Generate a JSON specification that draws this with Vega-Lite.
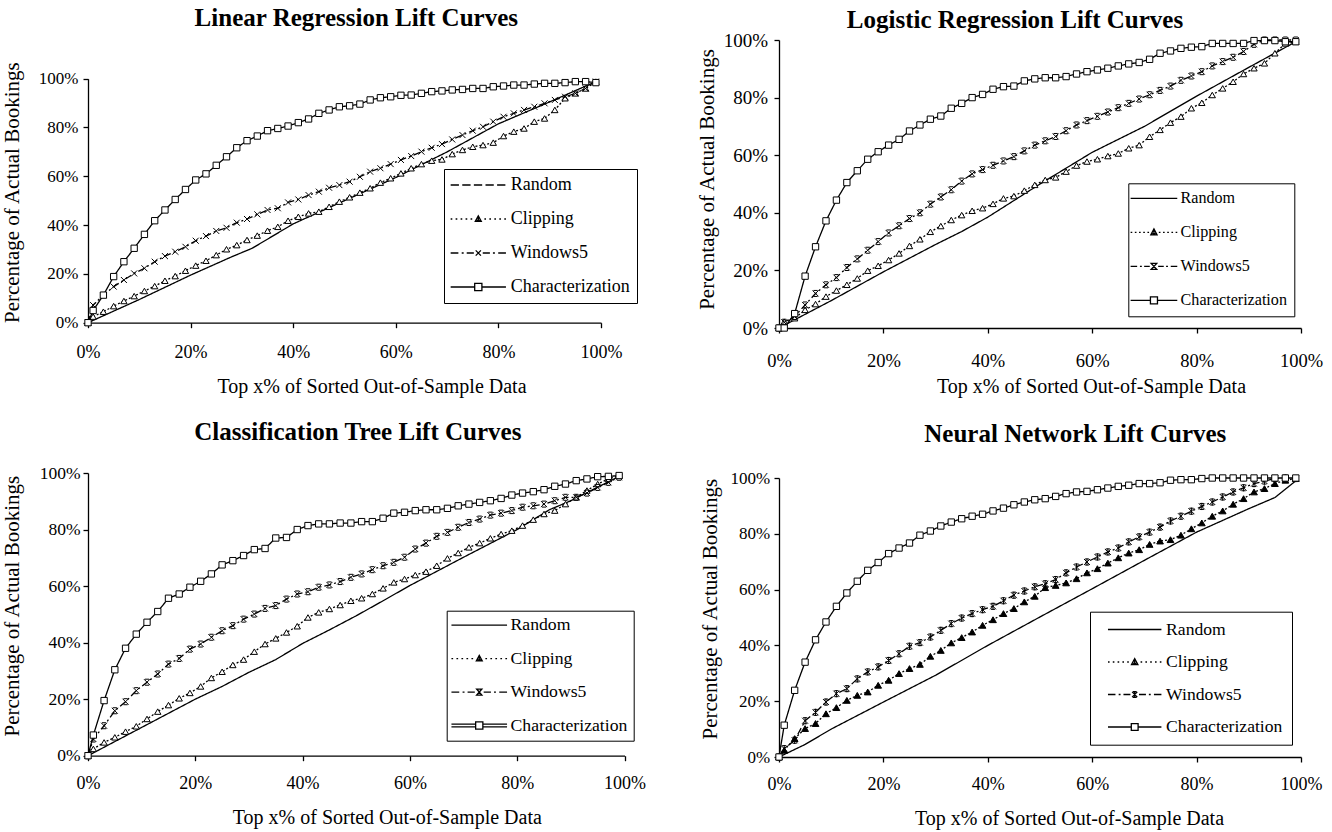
{
"$schema": "https://vega.github.io/schema/vega-lite/v6.json",
"background": "white",
"padding": {"left": 0, "top": 6, "right": 5, "bottom": 5},
"config": {
  "font": "Liberation Serif",
  "view": {"stroke": null},
  "axis": {"grid": false, "domainColor": "black", "domainWidth": 1.3, "tickColor": "black", "tickWidth": 1.3, "tickSize": 5, "labelColor": "black", "labelFont": "Liberation Serif", "labelFontSize": 18, "labelFlush": false, "labelOverlap": false, "titleColor": "black", "titleFont": "Liberation Serif", "titleFontSize": 20, "titleFontWeight": "normal"},
  "title": {"font": "Liberation Serif", "fontSize": 25, "fontWeight": "bold", "color": "black"},
  "legend": {"labelFont": "Liberation Serif", "labelColor": "black", "strokeColor": "black", "fillColor": "white", "symbolStrokeColor": "black", "symbolStrokeWidth": 1.3, "symbolOpacity": 1, "labelLimit": 400}
},
"datasets": {
"p1": [
{"series":"Random","x":0,"y":0},{"series":"Random","x":10,"y":9.5},{"series":"Random","x":20,"y":19.5},{"series":"Random","x":28,"y":27},{"series":"Random","x":32,"y":30.5},{"series":"Random","x":40,"y":40.5},{"series":"Random","x":50,"y":50},{"series":"Random","x":60,"y":59.5},{"series":"Random","x":70,"y":70},{"series":"Random","x":80,"y":81.5},{"series":"Random","x":90,"y":90.5},{"series":"Random","x":99,"y":98.8},
{"series":"Clipping","x":0,"y":0},{"series":"Clipping","x":1,"y":2.5},{"series":"Clipping","x":3,"y":4.5},{"series":"Clipping","x":5,"y":6.8},{"series":"Clipping","x":7,"y":8.9},{"series":"Clipping","x":9,"y":10.9},{"series":"Clipping","x":11,"y":13},{"series":"Clipping","x":13,"y":15},{"series":"Clipping","x":15,"y":17.2},{"series":"Clipping","x":17,"y":19.1},{"series":"Clipping","x":19,"y":21.3},{"series":"Clipping","x":21,"y":23.4},{"series":"Clipping","x":23,"y":25.4},{"series":"Clipping","x":25,"y":27.7},{"series":"Clipping","x":27,"y":30.1},{"series":"Clipping","x":29,"y":31.8},{"series":"Clipping","x":31,"y":33.9},{"series":"Clipping","x":33,"y":35.7},{"series":"Clipping","x":35,"y":37.7},{"series":"Clipping","x":37,"y":39.3},{"series":"Clipping","x":39,"y":41.8},{"series":"Clipping","x":41,"y":43.4},{"series":"Clipping","x":43,"y":44.8},{"series":"Clipping","x":45,"y":45.5},{"series":"Clipping","x":47,"y":47.5},{"series":"Clipping","x":49,"y":49.6},{"series":"Clipping","x":51,"y":51.4},{"series":"Clipping","x":53,"y":53.3},{"series":"Clipping","x":55,"y":55.1},{"series":"Clipping","x":57,"y":57.4},{"series":"Clipping","x":59,"y":59.2},{"series":"Clipping","x":61,"y":61.2},{"series":"Clipping","x":63,"y":63.3},{"series":"Clipping","x":65,"y":65},{"series":"Clipping","x":67,"y":66.4},{"series":"Clipping","x":69,"y":66.9},{"series":"Clipping","x":71,"y":69.1},{"series":"Clipping","x":73,"y":70.8},{"series":"Clipping","x":75,"y":72.1},{"series":"Clipping","x":77,"y":72.8},{"series":"Clipping","x":79,"y":73.8},{"series":"Clipping","x":81,"y":76.5},{"series":"Clipping","x":83,"y":78.3},{"series":"Clipping","x":85,"y":79.6},{"series":"Clipping","x":87,"y":82.4},{"series":"Clipping","x":89,"y":83.7},{"series":"Clipping","x":91,"y":87.2},{"series":"Clipping","x":93,"y":92},{"series":"Clipping","x":95,"y":94},{"series":"Clipping","x":97,"y":96},{"series":"Clipping","x":99,"y":98.8},
{"series":"Windows5","x":0,"y":0},{"series":"Windows5","x":1,"y":7.2},{"series":"Windows5","x":3,"y":11.3},{"series":"Windows5","x":5,"y":14.8},{"series":"Windows5","x":7,"y":17.5},{"series":"Windows5","x":9,"y":20.2},{"series":"Windows5","x":11,"y":22.3},{"series":"Windows5","x":13,"y":25},{"series":"Windows5","x":15,"y":27.3},{"series":"Windows5","x":17,"y":29.1},{"series":"Windows5","x":19,"y":31.1},{"series":"Windows5","x":21,"y":33.6},{"series":"Windows5","x":23,"y":35.5},{"series":"Windows5","x":25,"y":37.6},{"series":"Windows5","x":27,"y":38.9},{"series":"Windows5","x":29,"y":41},{"series":"Windows5","x":31,"y":42.5},{"series":"Windows5","x":33,"y":44.4},{"series":"Windows5","x":35,"y":46.2},{"series":"Windows5","x":37,"y":46.9},{"series":"Windows5","x":39,"y":49.3},{"series":"Windows5","x":41,"y":50.5},{"series":"Windows5","x":43,"y":52.3},{"series":"Windows5","x":45,"y":53.7},{"series":"Windows5","x":47,"y":55.3},{"series":"Windows5","x":49,"y":56.4},{"series":"Windows5","x":51,"y":57.8},{"series":"Windows5","x":53,"y":59.8},{"series":"Windows5","x":55,"y":61.9},{"series":"Windows5","x":57,"y":63.3},{"series":"Windows5","x":59,"y":65},{"series":"Windows5","x":61,"y":66.7},{"series":"Windows5","x":63,"y":68.3},{"series":"Windows5","x":65,"y":70.1},{"series":"Windows5","x":67,"y":71.7},{"series":"Windows5","x":69,"y":73.2},{"series":"Windows5","x":71,"y":75.1},{"series":"Windows5","x":73,"y":76.9},{"series":"Windows5","x":75,"y":78.7},{"series":"Windows5","x":77,"y":80.3},{"series":"Windows5","x":79,"y":82.4},{"series":"Windows5","x":81,"y":84.4},{"series":"Windows5","x":83,"y":85.8},{"series":"Windows5","x":85,"y":87.2},{"series":"Windows5","x":87,"y":88.5},{"series":"Windows5","x":89,"y":89.9},{"series":"Windows5","x":91,"y":91.3},{"series":"Windows5","x":93,"y":92.6},{"series":"Windows5","x":95,"y":94},{"series":"Windows5","x":97,"y":96},{"series":"Windows5","x":99,"y":98.8},
{"series":"Characterization","x":0,"y":0},{"series":"Characterization","x":1,"y":5},{"series":"Characterization","x":3,"y":11.3},{"series":"Characterization","x":5,"y":18.9},{"series":"Characterization","x":7,"y":25},{"series":"Characterization","x":9,"y":30.5},{"series":"Characterization","x":11,"y":36.2},{"series":"Characterization","x":13,"y":41.8},{"series":"Characterization","x":15,"y":46.2},{"series":"Characterization","x":17,"y":50.5},{"series":"Characterization","x":19,"y":54.6},{"series":"Characterization","x":21,"y":58.5},{"series":"Characterization","x":23,"y":61},{"series":"Characterization","x":25,"y":64.5},{"series":"Characterization","x":27,"y":68},{"series":"Characterization","x":29,"y":71.7},{"series":"Characterization","x":31,"y":74.6},{"series":"Characterization","x":33,"y":76.5},{"series":"Characterization","x":35,"y":78.7},{"series":"Characterization","x":37,"y":79.6},{"series":"Characterization","x":39,"y":80.6},{"series":"Characterization","x":41,"y":82},{"series":"Characterization","x":43,"y":83.5},{"series":"Characterization","x":45,"y":85.8},{"series":"Characterization","x":47,"y":87.2},{"series":"Characterization","x":49,"y":88.5},{"series":"Characterization","x":51,"y":88.9},{"series":"Characterization","x":53,"y":89.6},{"series":"Characterization","x":55,"y":91.3},{"series":"Characterization","x":57,"y":92.2},{"series":"Characterization","x":59,"y":92.6},{"series":"Characterization","x":61,"y":93.2},{"series":"Characterization","x":63,"y":93.3},{"series":"Characterization","x":65,"y":94},{"series":"Characterization","x":67,"y":94.7},{"series":"Characterization","x":69,"y":95},{"series":"Characterization","x":71,"y":95.4},{"series":"Characterization","x":73,"y":95.6},{"series":"Characterization","x":75,"y":96},{"series":"Characterization","x":77,"y":96},{"series":"Characterization","x":79,"y":96.7},{"series":"Characterization","x":81,"y":97},{"series":"Characterization","x":83,"y":97.4},{"series":"Characterization","x":85,"y":97.4},{"series":"Characterization","x":87,"y":97.8},{"series":"Characterization","x":89,"y":98.1},{"series":"Characterization","x":91,"y":98.1},{"series":"Characterization","x":93,"y":98.4},{"series":"Characterization","x":95,"y":98.8},{"series":"Characterization","x":97,"y":98.8},{"series":"Characterization","x":99,"y":98.4}
],
"p2": [
{"series":"Random","x":0,"y":0},{"series":"Random","x":10,"y":9.5},{"series":"Random","x":20,"y":19.5},{"series":"Random","x":30,"y":29},{"series":"Random","x":35,"y":33.5},{"series":"Random","x":40,"y":38.5},{"series":"Random","x":50,"y":50},{"series":"Random","x":60,"y":61},{"series":"Random","x":65,"y":65.5},{"series":"Random","x":70,"y":70},{"series":"Random","x":80,"y":80.5},{"series":"Random","x":90,"y":90.5},{"series":"Random","x":99,"y":99.4},
{"series":"Clipping","x":0,"y":0},{"series":"Clipping","x":1,"y":2.2},{"series":"Clipping","x":3,"y":3.4},{"series":"Clipping","x":5,"y":6.3},{"series":"Clipping","x":7,"y":8.3},{"series":"Clipping","x":9,"y":10.9},{"series":"Clipping","x":11,"y":13},{"series":"Clipping","x":13,"y":15},{"series":"Clipping","x":15,"y":17.2},{"series":"Clipping","x":17,"y":19.9},{"series":"Clipping","x":19,"y":21.6},{"series":"Clipping","x":21,"y":23.6},{"series":"Clipping","x":23,"y":25.9},{"series":"Clipping","x":25,"y":28.5},{"series":"Clipping","x":27,"y":30.8},{"series":"Clipping","x":29,"y":33.4},{"series":"Clipping","x":31,"y":35.4},{"series":"Clipping","x":33,"y":37.5},{"series":"Clipping","x":35,"y":39.2},{"series":"Clipping","x":37,"y":40.7},{"series":"Clipping","x":39,"y":41.6},{"series":"Clipping","x":41,"y":43.1},{"series":"Clipping","x":43,"y":45},{"series":"Clipping","x":45,"y":45.8},{"series":"Clipping","x":47,"y":47.7},{"series":"Clipping","x":49,"y":49.7},{"series":"Clipping","x":51,"y":51.4},{"series":"Clipping","x":53,"y":52.3},{"series":"Clipping","x":55,"y":54.3},{"series":"Clipping","x":57,"y":56.4},{"series":"Clipping","x":59,"y":57.8},{"series":"Clipping","x":61,"y":58.6},{"series":"Clipping","x":63,"y":59.7},{"series":"Clipping","x":65,"y":60.6},{"series":"Clipping","x":67,"y":62.4},{"series":"Clipping","x":69,"y":63.5},{"series":"Clipping","x":71,"y":66.4},{"series":"Clipping","x":73,"y":68.8},{"series":"Clipping","x":75,"y":71.3},{"series":"Clipping","x":77,"y":73.4},{"series":"Clipping","x":79,"y":76.3},{"series":"Clipping","x":81,"y":78.2},{"series":"Clipping","x":83,"y":80.9},{"series":"Clipping","x":85,"y":83.2},{"series":"Clipping","x":87,"y":85.5},{"series":"Clipping","x":89,"y":88.2},{"series":"Clipping","x":91,"y":90.2},{"series":"Clipping","x":93,"y":91.9},{"series":"Clipping","x":95,"y":95.4},{"series":"Clipping","x":97,"y":98.8},{"series":"Clipping","x":99,"y":99.4},
{"series":"Windows5","x":0,"y":0},{"series":"Windows5","x":1,"y":2},{"series":"Windows5","x":3,"y":4},{"series":"Windows5","x":5,"y":8},{"series":"Windows5","x":7,"y":12},{"series":"Windows5","x":9,"y":15},{"series":"Windows5","x":11,"y":17.5},{"series":"Windows5","x":13,"y":21},{"series":"Windows5","x":15,"y":24},{"series":"Windows5","x":17,"y":27},{"series":"Windows5","x":19,"y":30},{"series":"Windows5","x":21,"y":33},{"series":"Windows5","x":23,"y":35.5},{"series":"Windows5","x":25,"y":38},{"series":"Windows5","x":27,"y":40},{"series":"Windows5","x":29,"y":43},{"series":"Windows5","x":31,"y":45.5},{"series":"Windows5","x":33,"y":48},{"series":"Windows5","x":35,"y":51},{"series":"Windows5","x":37,"y":53.5},{"series":"Windows5","x":39,"y":55},{"series":"Windows5","x":41,"y":56.5},{"series":"Windows5","x":43,"y":58},{"series":"Windows5","x":45,"y":59.5},{"series":"Windows5","x":47,"y":61.5},{"series":"Windows5","x":49,"y":63.5},{"series":"Windows5","x":51,"y":65},{"series":"Windows5","x":53,"y":66.5},{"series":"Windows5","x":55,"y":68.5},{"series":"Windows5","x":57,"y":70.5},{"series":"Windows5","x":59,"y":72},{"series":"Windows5","x":61,"y":73.5},{"series":"Windows5","x":63,"y":75},{"series":"Windows5","x":65,"y":76.5},{"series":"Windows5","x":67,"y":78},{"series":"Windows5","x":69,"y":79.5},{"series":"Windows5","x":71,"y":81},{"series":"Windows5","x":73,"y":82.5},{"series":"Windows5","x":75,"y":84},{"series":"Windows5","x":77,"y":86},{"series":"Windows5","x":79,"y":87.5},{"series":"Windows5","x":81,"y":89},{"series":"Windows5","x":83,"y":91},{"series":"Windows5","x":85,"y":92.5},{"series":"Windows5","x":87,"y":94},{"series":"Windows5","x":89,"y":96},{"series":"Windows5","x":91,"y":98.5},{"series":"Windows5","x":93,"y":100},{"series":"Windows5","x":95,"y":100},{"series":"Windows5","x":97,"y":100},{"series":"Windows5","x":99,"y":100},
{"series":"Characterization","x":0,"y":0},{"series":"Characterization","x":1,"y":0},{"series":"Characterization","x":3,"y":5},{"series":"Characterization","x":5,"y":18},{"series":"Characterization","x":7,"y":28.2},{"series":"Characterization","x":9,"y":37.2},{"series":"Characterization","x":11,"y":44.4},{"series":"Characterization","x":13,"y":50.5},{"series":"Characterization","x":15,"y":54.6},{"series":"Characterization","x":17,"y":58.6},{"series":"Characterization","x":19,"y":61.2},{"series":"Characterization","x":21,"y":63.5},{"series":"Characterization","x":23,"y":65.5},{"series":"Characterization","x":25,"y":68.4},{"series":"Characterization","x":27,"y":70.5},{"series":"Characterization","x":29,"y":72.5},{"series":"Characterization","x":31,"y":73.6},{"series":"Characterization","x":33,"y":76.3},{"series":"Characterization","x":35,"y":78},{"series":"Characterization","x":37,"y":80},{"series":"Characterization","x":39,"y":81.1},{"series":"Characterization","x":41,"y":82.9},{"series":"Characterization","x":43,"y":83.8},{"series":"Characterization","x":45,"y":84},{"series":"Characterization","x":47,"y":85.8},{"series":"Characterization","x":49,"y":86.5},{"series":"Characterization","x":51,"y":86.9},{"series":"Characterization","x":53,"y":86.9},{"series":"Characterization","x":55,"y":87.3},{"series":"Characterization","x":57,"y":88.2},{"series":"Characterization","x":59,"y":89},{"series":"Characterization","x":61,"y":89.6},{"series":"Characterization","x":63,"y":90.2},{"series":"Characterization","x":65,"y":91},{"series":"Characterization","x":67,"y":91.7},{"series":"Characterization","x":69,"y":92.2},{"series":"Characterization","x":71,"y":93.3},{"series":"Characterization","x":73,"y":95.4},{"series":"Characterization","x":75,"y":96.2},{"series":"Characterization","x":77,"y":97.1},{"series":"Characterization","x":79,"y":97.5},{"series":"Characterization","x":81,"y":97.7},{"series":"Characterization","x":83,"y":98.8},{"series":"Characterization","x":85,"y":98.8},{"series":"Characterization","x":87,"y":98.8},{"series":"Characterization","x":89,"y":98.8},{"series":"Characterization","x":91,"y":99.8},{"series":"Characterization","x":93,"y":99.8},{"series":"Characterization","x":95,"y":99.8},{"series":"Characterization","x":97,"y":99.4},{"series":"Characterization","x":99,"y":99.4}
],
"p3": [
{"series":"Random","x":0,"y":0},{"series":"Random","x":10,"y":10},{"series":"Random","x":20,"y":20},{"series":"Random","x":25,"y":24.5},{"series":"Random","x":30,"y":29.5},{"series":"Random","x":35,"y":34},{"series":"Random","x":40,"y":39.7},{"series":"Random","x":45,"y":44.5},{"series":"Random","x":50,"y":49.5},{"series":"Random","x":55,"y":54.8},{"series":"Random","x":60,"y":60.2},{"series":"Random","x":70,"y":70.2},{"series":"Random","x":80,"y":80},{"series":"Random","x":86,"y":87},{"series":"Random","x":90,"y":90.2},{"series":"Random","x":99,"y":98.8},
{"series":"Clipping","x":0,"y":0},{"series":"Clipping","x":1,"y":2.4},{"series":"Clipping","x":3,"y":4.7},{"series":"Clipping","x":5,"y":6.5},{"series":"Clipping","x":7,"y":8.5},{"series":"Clipping","x":9,"y":10.4},{"series":"Clipping","x":11,"y":13},{"series":"Clipping","x":13,"y":15.6},{"series":"Clipping","x":15,"y":17.9},{"series":"Clipping","x":17,"y":20.3},{"series":"Clipping","x":19,"y":22.2},{"series":"Clipping","x":21,"y":24.5},{"series":"Clipping","x":23,"y":27.5},{"series":"Clipping","x":25,"y":29.7},{"series":"Clipping","x":27,"y":32.1},{"series":"Clipping","x":29,"y":34},{"series":"Clipping","x":31,"y":36.8},{"series":"Clipping","x":33,"y":39.5},{"series":"Clipping","x":35,"y":41.5},{"series":"Clipping","x":37,"y":43.6},{"series":"Clipping","x":39,"y":45.8},{"series":"Clipping","x":41,"y":48.9},{"series":"Clipping","x":43,"y":50.7},{"series":"Clipping","x":45,"y":51.9},{"series":"Clipping","x":47,"y":53.3},{"series":"Clipping","x":49,"y":54.8},{"series":"Clipping","x":51,"y":55.7},{"series":"Clipping","x":53,"y":57.2},{"series":"Clipping","x":55,"y":59.2},{"series":"Clipping","x":57,"y":61.3},{"series":"Clipping","x":59,"y":62.5},{"series":"Clipping","x":61,"y":63.9},{"series":"Clipping","x":63,"y":65.1},{"series":"Clipping","x":65,"y":67.2},{"series":"Clipping","x":67,"y":69.8},{"series":"Clipping","x":69,"y":71.7},{"series":"Clipping","x":71,"y":73.7},{"series":"Clipping","x":73,"y":75.2},{"series":"Clipping","x":75,"y":76.9},{"series":"Clipping","x":77,"y":78.4},{"series":"Clipping","x":79,"y":79.6},{"series":"Clipping","x":81,"y":81.4},{"series":"Clipping","x":83,"y":83.5},{"series":"Clipping","x":85,"y":85.5},{"series":"Clipping","x":87,"y":86.7},{"series":"Clipping","x":89,"y":89},{"series":"Clipping","x":91,"y":91.4},{"series":"Clipping","x":93,"y":93.8},{"series":"Clipping","x":95,"y":96.1},{"series":"Clipping","x":97,"y":97.9},{"series":"Clipping","x":99,"y":99.1},
{"series":"Windows5","x":0,"y":0},{"series":"Windows5","x":1,"y":5.9},{"series":"Windows5","x":3,"y":10.6},{"series":"Windows5","x":5,"y":15.9},{"series":"Windows5","x":7,"y":19.1},{"series":"Windows5","x":9,"y":23},{"series":"Windows5","x":11,"y":26},{"series":"Windows5","x":13,"y":28.9},{"series":"Windows5","x":15,"y":32.4},{"series":"Windows5","x":17,"y":34.4},{"series":"Windows5","x":19,"y":37.7},{"series":"Windows5","x":21,"y":39.5},{"series":"Windows5","x":23,"y":41.9},{"series":"Windows5","x":25,"y":44.2},{"series":"Windows5","x":27,"y":46},{"series":"Windows5","x":29,"y":48.3},{"series":"Windows5","x":31,"y":50.1},{"series":"Windows5","x":33,"y":52.1},{"series":"Windows5","x":35,"y":53.1},{"series":"Windows5","x":37,"y":55.4},{"series":"Windows5","x":39,"y":57.2},{"series":"Windows5","x":41,"y":58},{"series":"Windows5","x":43,"y":59.6},{"series":"Windows5","x":45,"y":60.4},{"series":"Windows5","x":47,"y":61.6},{"series":"Windows5","x":49,"y":63.1},{"series":"Windows5","x":51,"y":64.3},{"series":"Windows5","x":53,"y":65.8},{"series":"Windows5","x":55,"y":67.2},{"series":"Windows5","x":57,"y":68.4},{"series":"Windows5","x":59,"y":70.2},{"series":"Windows5","x":61,"y":73.1},{"series":"Windows5","x":63,"y":75.2},{"series":"Windows5","x":65,"y":77.6},{"series":"Windows5","x":67,"y":79},{"series":"Windows5","x":69,"y":80.8},{"series":"Windows5","x":71,"y":82.5},{"series":"Windows5","x":73,"y":83.7},{"series":"Windows5","x":75,"y":85.1},{"series":"Windows5","x":77,"y":85.8},{"series":"Windows5","x":79,"y":86.7},{"series":"Windows5","x":81,"y":87.9},{"series":"Windows5","x":83,"y":88.4},{"series":"Windows5","x":85,"y":89},{"series":"Windows5","x":87,"y":90.2},{"series":"Windows5","x":89,"y":91.4},{"series":"Windows5","x":91,"y":91.4},{"series":"Windows5","x":93,"y":92.9},{"series":"Windows5","x":95,"y":94.9},{"series":"Windows5","x":97,"y":96.7},{"series":"Windows5","x":99,"y":98.5},
{"series":"Characterization","x":0,"y":0},{"series":"Characterization","x":1,"y":7.3},{"series":"Characterization","x":3,"y":19.5},{"series":"Characterization","x":5,"y":30.4},{"series":"Characterization","x":7,"y":38},{"series":"Characterization","x":9,"y":43},{"series":"Characterization","x":11,"y":47.2},{"series":"Characterization","x":13,"y":51},{"series":"Characterization","x":15,"y":55.7},{"series":"Characterization","x":17,"y":57.2},{"series":"Characterization","x":19,"y":59.6},{"series":"Characterization","x":21,"y":61.7},{"series":"Characterization","x":23,"y":64.3},{"series":"Characterization","x":25,"y":67.5},{"series":"Characterization","x":27,"y":69},{"series":"Characterization","x":29,"y":70.8},{"series":"Characterization","x":31,"y":72.9},{"series":"Characterization","x":33,"y":73.3},{"series":"Characterization","x":35,"y":77},{"series":"Characterization","x":37,"y":77.2},{"series":"Characterization","x":39,"y":80},{"series":"Characterization","x":41,"y":81.4},{"series":"Characterization","x":43,"y":82},{"series":"Characterization","x":45,"y":82},{"series":"Characterization","x":47,"y":82.3},{"series":"Characterization","x":49,"y":82.3},{"series":"Characterization","x":51,"y":82.8},{"series":"Characterization","x":53,"y":82.8},{"series":"Characterization","x":55,"y":84},{"series":"Characterization","x":57,"y":85.8},{"series":"Characterization","x":59,"y":86.1},{"series":"Characterization","x":61,"y":86.7},{"series":"Characterization","x":63,"y":87},{"series":"Characterization","x":65,"y":87},{"series":"Characterization","x":67,"y":87.5},{"series":"Characterization","x":69,"y":88.4},{"series":"Characterization","x":71,"y":89},{"series":"Characterization","x":73,"y":89.6},{"series":"Characterization","x":75,"y":90.2},{"series":"Characterization","x":77,"y":91},{"series":"Characterization","x":79,"y":92.2},{"series":"Characterization","x":81,"y":92.9},{"series":"Characterization","x":83,"y":93.4},{"series":"Characterization","x":85,"y":94.1},{"series":"Characterization","x":87,"y":95.3},{"series":"Characterization","x":89,"y":96.1},{"series":"Characterization","x":91,"y":97.3},{"series":"Characterization","x":93,"y":97.9},{"series":"Characterization","x":95,"y":98.7},{"series":"Characterization","x":97,"y":98.8},{"series":"Characterization","x":99,"y":99.1}
],
"p4": [
{"series":"Random","x":0,"y":0},{"series":"Random","x":5,"y":4.5},{"series":"Random","x":10,"y":10},{"series":"Random","x":20,"y":19.7},{"series":"Random","x":30,"y":29.3},{"series":"Random","x":40,"y":40},{"series":"Random","x":50,"y":50.2},{"series":"Random","x":60,"y":60.3},{"series":"Random","x":70,"y":70.5},{"series":"Random","x":80,"y":80.6},{"series":"Random","x":90,"y":89},{"series":"Random","x":95,"y":93},{"series":"Random","x":99,"y":99},
{"series":"Clipping","x":0,"y":0},{"series":"Clipping","x":1,"y":2.4},{"series":"Clipping","x":3,"y":6.6},{"series":"Clipping","x":5,"y":10.2},{"series":"Clipping","x":7,"y":12},{"series":"Clipping","x":9,"y":15.5},{"series":"Clipping","x":11,"y":17.7},{"series":"Clipping","x":13,"y":20.3},{"series":"Clipping","x":15,"y":22.1},{"series":"Clipping","x":17,"y":23.3},{"series":"Clipping","x":19,"y":25.7},{"series":"Clipping","x":21,"y":27.5},{"series":"Clipping","x":23,"y":29.9},{"series":"Clipping","x":25,"y":31.7},{"series":"Clipping","x":27,"y":33.2},{"series":"Clipping","x":29,"y":36.1},{"series":"Clipping","x":31,"y":38.2},{"series":"Clipping","x":33,"y":40.9},{"series":"Clipping","x":35,"y":42.8},{"series":"Clipping","x":37,"y":44.8},{"series":"Clipping","x":39,"y":47.2},{"series":"Clipping","x":41,"y":49.2},{"series":"Clipping","x":43,"y":51.4},{"series":"Clipping","x":45,"y":53.2},{"series":"Clipping","x":47,"y":55.6},{"series":"Clipping","x":49,"y":57.6},{"series":"Clipping","x":51,"y":60.7},{"series":"Clipping","x":53,"y":61.5},{"series":"Clipping","x":55,"y":62.4},{"series":"Clipping","x":57,"y":63.9},{"series":"Clipping","x":59,"y":66},{"series":"Clipping","x":61,"y":67.5},{"series":"Clipping","x":63,"y":69.5},{"series":"Clipping","x":65,"y":71.4},{"series":"Clipping","x":67,"y":73.1},{"series":"Clipping","x":69,"y":74.3},{"series":"Clipping","x":71,"y":76.2},{"series":"Clipping","x":73,"y":77.4},{"series":"Clipping","x":75,"y":77.9},{"series":"Clipping","x":77,"y":79.5},{"series":"Clipping","x":79,"y":81.8},{"series":"Clipping","x":81,"y":83.9},{"series":"Clipping","x":83,"y":86.3},{"series":"Clipping","x":85,"y":88.2},{"series":"Clipping","x":87,"y":90.6},{"series":"Clipping","x":89,"y":92.6},{"series":"Clipping","x":91,"y":95},{"series":"Clipping","x":93,"y":96.2},{"series":"Clipping","x":95,"y":98},{"series":"Clipping","x":97,"y":99.2},{"series":"Clipping","x":99,"y":99.8},
{"series":"Windows5","x":0,"y":0},{"series":"Windows5","x":1,"y":3},{"series":"Windows5","x":3,"y":6},{"series":"Windows5","x":5,"y":13},{"series":"Windows5","x":7,"y":16},{"series":"Windows5","x":9,"y":19.7},{"series":"Windows5","x":11,"y":22.7},{"series":"Windows5","x":13,"y":24.5},{"series":"Windows5","x":15,"y":28},{"series":"Windows5","x":17,"y":30.5},{"series":"Windows5","x":19,"y":32.3},{"series":"Windows5","x":21,"y":34.6},{"series":"Windows5","x":23,"y":37},{"series":"Windows5","x":25,"y":39.7},{"series":"Windows5","x":27,"y":41},{"series":"Windows5","x":29,"y":43},{"series":"Windows5","x":31,"y":45.4},{"series":"Windows5","x":33,"y":47.8},{"series":"Windows5","x":35,"y":49.8},{"series":"Windows5","x":37,"y":51.4},{"series":"Windows5","x":39,"y":52.8},{"series":"Windows5","x":41,"y":54},{"series":"Windows5","x":43,"y":56},{"series":"Windows5","x":45,"y":58},{"series":"Windows5","x":47,"y":59.5},{"series":"Windows5","x":49,"y":61},{"series":"Windows5","x":51,"y":62.1},{"series":"Windows5","x":53,"y":63.6},{"series":"Windows5","x":55,"y":66},{"series":"Windows5","x":57,"y":68.1},{"series":"Windows5","x":59,"y":69.9},{"series":"Windows5","x":61,"y":71.7},{"series":"Windows5","x":63,"y":73.5},{"series":"Windows5","x":65,"y":74.9},{"series":"Windows5","x":67,"y":77.1},{"series":"Windows5","x":69,"y":78.9},{"series":"Windows5","x":71,"y":80.6},{"series":"Windows5","x":73,"y":82.4},{"series":"Windows5","x":75,"y":84.6},{"series":"Windows5","x":77,"y":86.3},{"series":"Windows5","x":79,"y":88.1},{"series":"Windows5","x":81,"y":89.8},{"series":"Windows5","x":83,"y":91.4},{"series":"Windows5","x":85,"y":93.2},{"series":"Windows5","x":87,"y":95},{"series":"Windows5","x":89,"y":96.5},{"series":"Windows5","x":91,"y":98},{"series":"Windows5","x":93,"y":98.9},{"series":"Windows5","x":95,"y":99.8},{"series":"Windows5","x":97,"y":100},{"series":"Windows5","x":99,"y":99.8},
{"series":"Characterization","x":0,"y":0},{"series":"Characterization","x":1,"y":11.4},{"series":"Characterization","x":3,"y":23.9},{"series":"Characterization","x":5,"y":34},{"series":"Characterization","x":7,"y":42},{"series":"Characterization","x":9,"y":48.4},{"series":"Characterization","x":11,"y":54},{"series":"Characterization","x":13,"y":58.8},{"series":"Characterization","x":15,"y":63},{"series":"Characterization","x":17,"y":66.9},{"series":"Characterization","x":19,"y":69.7},{"series":"Characterization","x":21,"y":72.9},{"series":"Characterization","x":23,"y":74.9},{"series":"Characterization","x":25,"y":76.7},{"series":"Characterization","x":27,"y":79.5},{"series":"Characterization","x":29,"y":81},{"series":"Characterization","x":31,"y":82.8},{"series":"Characterization","x":33,"y":84.2},{"series":"Characterization","x":35,"y":85.4},{"series":"Characterization","x":37,"y":86.3},{"series":"Characterization","x":39,"y":87},{"series":"Characterization","x":41,"y":88.2},{"series":"Characterization","x":43,"y":89.2},{"series":"Characterization","x":45,"y":90.4},{"series":"Characterization","x":47,"y":91.4},{"series":"Characterization","x":49,"y":92.2},{"series":"Characterization","x":51,"y":92.6},{"series":"Characterization","x":53,"y":93.4},{"series":"Characterization","x":55,"y":94.4},{"series":"Characterization","x":57,"y":95},{"series":"Characterization","x":59,"y":95.2},{"series":"Characterization","x":61,"y":95.8},{"series":"Characterization","x":63,"y":96.4},{"series":"Characterization","x":65,"y":97},{"series":"Characterization","x":67,"y":97.4},{"series":"Characterization","x":69,"y":98},{"series":"Characterization","x":71,"y":98},{"series":"Characterization","x":73,"y":98.3},{"series":"Characterization","x":75,"y":99.2},{"series":"Characterization","x":77,"y":99.4},{"series":"Characterization","x":79,"y":99.4},{"series":"Characterization","x":81,"y":99.8},{"series":"Characterization","x":83,"y":100},{"series":"Characterization","x":85,"y":100},{"series":"Characterization","x":87,"y":100},{"series":"Characterization","x":89,"y":100},{"series":"Characterization","x":91,"y":100},{"series":"Characterization","x":93,"y":100},{"series":"Characterization","x":95,"y":100},{"series":"Characterization","x":97,"y":100},{"series":"Characterization","x":99,"y":100}
]
},
"spacing": 49,
"resolve": {"scale": {"shape": "independent"}, "legend": {"shape": "independent"}},
"hconcat": [
{
 "spacing": 24,
 "resolve": {"scale": {"shape": "independent"}, "legend": {"shape": "independent"}},
 "vconcat": [
 {
  "width": 513, "height": 282.7,
  "data": {"name": "p1"},
  "title": {"text": "Linear Regression Lift Curves", "frame": "group", "anchor": "middle", "dx": 11.8, "offset": 9},
  "encoding": {
   "x": {"field": "x", "type": "quantitative", "scale": {"domain": [0, 100], "nice": false},
     "axis": {"values": [0, 20, 40, 60, 80, 100], "labelExpr": "datum.value + '%'", "title": "Top x% of Sorted Out-of-Sample Data", "labelPadding": 16, "labelFontSize": 18, "titleX": 283.5, "titleY": 63.3, "titleAlign": "center", "titleBaseline": "middle"}},
   "y": {"field": "y", "type": "quantitative", "scale": {"domain": [0, 100], "nice": false, "range": [282.7, 38.7]},
     "axis": {"values": [0, 20, 40, 60, 80, 100], "labelExpr": "datum.value + '%'", "title": "Percentage of Actual Bookings", "labelPadding": 5, "labelFontSize": 17, "titleFontSize": 21, "titleX": -76, "titleY": 152.2, "titleAngle": -90, "titleAlign": "center", "titleBaseline": "middle"}}
  },
  "layer": [
   {"mark": {"type": "line", "color": "black", "strokeWidth": 1.3},
    "encoding": {"detail": {"field": "series", "type": "nominal"},
      "strokeDash": {"condition": [{"test": "datum.series === 'Clipping'", "value": [2, 2]}, {"test": "datum.series === 'Windows5'", "value": [7, 3, 2, 3]}], "value": [1, 0]}}},
   {"transform": [{"filter": "datum.series === 'Clipping'"}],
    "mark": {"type": "point", "shape": "triangle-up", "filled": true, "fill": "white", "stroke": "black", "strokeWidth": 1, "size": 40, "opacity": 1}},
   {"transform": [{"filter": "datum.series === 'Windows5'"}],
    "mark": {"type": "point", "shape": "M-1,-1L1,1M-1,1L1,-1", "filled": true, "fill": "white", "stroke": "black", "strokeWidth": 1, "size": 36, "opacity": 1}},
   {"transform": [{"filter": "datum.series === 'Characterization'"}],
    "mark": {"type": "point", "shape": "square", "filled": true, "fill": "white", "stroke": "black", "strokeWidth": 1, "size": 40, "opacity": 1}},
   {"transform": [{"filter": "datum.x < 0"}],
    "mark": {"type": "point", "filled": false, "color": "black", "strokeWidth": 1.3, "opacity": 1},
    "encoding": {"shape": {"field": "series", "type": "nominal",
      "scale": {"domain": ["Random", "Clipping", "Windows5", "Characterization"], "range": [
        "M-6.91,0H-4.84M-4.01,0H-1.93M-1.11,0H0.97M1.8,0H3.87M4.7,0H6.77",
        "M-6.91,0H-6.5M-5.67,0H-5.25M-4.42,0H-4.01M-3.18,0H-2.76M-1.93,0H-1.52M1.52,0H1.93M2.76,0H3.18M4.01,0H4.42M5.25,0H5.67M6.5,0H6.91M-0.75,0.6L0,-0.8L0.75,0.6ZM0,-0.4V0.5M-0.4,0.35H0.4",
        "M-6.91,0H-4.98M-4.15,0H-3.66M-2.9,0H-1.11M1.11,0H2.9M3.66,0H4.15M4.98,0H6.91M-0.65,-0.65L0.65,0.65M-0.65,0.65L0.65,-0.65",
        "M-6.91,0H-0.9M0.9,0H6.91M-0.9,-0.9H0.9V0.9H-0.9Z"]},
      "legend": {"orient": "none", "legendX": 356, "legendY": 129, "title": null, "padding": 7, "rowPadding": 16, "labelFontSize": 18, "symbolSize": 64, "symbolOffset": 18.3, "labelOffset": 23.5}}}}
  ]
 },
 {
  "width": 536.5, "height": 282.7,
  "data": {"name": "p3"},
  "title": {"text": "Classification Tree Lift Curves", "frame": "group", "anchor": "middle", "dx": 1.6, "offset": 18.8},
  "encoding": {
   "x": {"field": "x", "type": "quantitative", "scale": {"domain": [0, 100], "nice": false},
     "axis": {"values": [0, 20, 40, 60, 80, 100], "labelExpr": "datum.value + '%'", "title": "Top x% of Sorted Out-of-Sample Data", "labelPadding": 13.3, "labelFontSize": 18, "titleX": 298.8, "titleY": 61.7, "titleAlign": "center", "titleBaseline": "middle"}},
   "y": {"field": "y", "type": "quantitative", "scale": {"domain": [0, 100], "nice": false},
     "axis": {"values": [0, 20, 40, 60, 80, 100], "labelExpr": "datum.value + '%'", "title": "Percentage of Actual Bookings", "labelPadding": 3, "labelFontSize": 17.5, "titleFontSize": 21, "titleX": -76, "titleY": 132.7, "titleAngle": -90, "titleAlign": "center", "titleBaseline": "middle"}}
  },
  "layer": [
   {"mark": {"type": "line", "color": "black", "strokeWidth": 1.3},
    "encoding": {"detail": {"field": "series", "type": "nominal"},
      "strokeDash": {"condition": [{"test": "datum.series === 'Clipping'", "value": [2, 2]}, {"test": "datum.series === 'Windows5'", "value": [7, 3, 2, 3]}], "value": [1, 0]}}},
   {"transform": [{"filter": "datum.series === 'Clipping'"}],
    "mark": {"type": "point", "shape": "triangle-up", "filled": true, "fill": "white", "stroke": "black", "strokeWidth": 1, "size": 40, "opacity": 1}},
   {"transform": [{"filter": "datum.series === 'Windows5'"}],
    "mark": {"type": "point", "shape": "M-1,-1L1,1M-1,1L1,-1M-0.7,-1H0.7M-0.7,1H0.7", "filled": true, "fill": "white", "stroke": "black", "strokeWidth": 1, "size": 36, "opacity": 1}},
   {"transform": [{"filter": "datum.series === 'Characterization'"}],
    "mark": {"type": "point", "shape": "square", "filled": true, "fill": "white", "stroke": "black", "strokeWidth": 1, "size": 40, "opacity": 1}},
   {"transform": [{"filter": "datum.x < 0"}],
    "mark": {"type": "point", "filled": false, "color": "black", "strokeWidth": 1.3, "opacity": 1},
    "encoding": {"shape": {"field": "series", "type": "nominal",
      "scale": {"domain": ["Random", "Clipping", "Windows5", "Characterization"], "range": [
        "M-6.95,0H6.95",
        "M-6.95,0H-6.53M-5.7,0H-5.28M-4.45,0H-4.03M-3.2,0H-2.78M-1.95,0H-1.53M1.53,0H1.95M2.78,0H3.2M4.03,0H4.45M5.28,0H5.7M6.53,0H6.95M-0.75,0.6L0,-0.8L0.75,0.6ZM0,-0.4V0.5M-0.4,0.35H0.4",
        "M-6.95,0H-5M-4.17,0H-3.68M-2.92,0H-1.11M1.11,0H2.92M3.68,0H4.17M5,0H6.95M-0.65,-0.75H0.65L-0.65,0.75H0.65Z",
        "M-6.95,-0.35H-0.9M-6.95,0.35H-0.9M0.9,-0.35H6.95M0.9,0.35H6.95M-0.9,-0.9H0.9V0.9H-0.9Z"]},
      "legend": {"orient": "none", "legendX": 358.7, "legendY": 137.7, "title": null, "padding": 5.5, "rowPadding": 14.5, "labelFontSize": 17.7, "symbolSize": 64, "symbolOffset": 18.2, "labelOffset": 22.4}}}}
  ]
 }
 ]
},
{
 "spacing": 24,
 "resolve": {"scale": {"shape": "independent"}, "legend": {"shape": "independent"}},
 "vconcat": [
 {
  "width": 522, "height": 288,
  "data": {"name": "p2"},
  "title": {"text": "Logistic Regression Lift Curves", "frame": "group", "anchor": "middle", "dx": -25, "offset": -2},
  "encoding": {
   "x": {"field": "x", "type": "quantitative", "scale": {"domain": [0, 100], "nice": false},
     "axis": {"values": [0, 20, 40, 60, 80, 100], "labelExpr": "datum.value + '%'", "title": "Top x% of Sorted Out-of-Sample Data", "labelPadding": 18.7, "labelFontSize": 18.5, "titleX": 312, "titleY": 58.7, "titleAlign": "center", "titleBaseline": "middle"}},
   "y": {"field": "y", "type": "quantitative", "scale": {"domain": [0, 100], "nice": false},
     "axis": {"values": [0, 20, 40, 60, 80, 100], "labelExpr": "datum.value + '%'", "title": "Percentage of Actual Bookings", "labelPadding": 6.5, "labelFontSize": 19, "titleFontSize": 21, "titleX": -72, "titleY": 139, "titleAngle": -90, "titleAlign": "center", "titleBaseline": "middle"}}
  },
  "layer": [
   {"mark": {"type": "line", "color": "black", "strokeWidth": 1.3},
    "encoding": {"detail": {"field": "series", "type": "nominal"},
      "strokeDash": {"condition": [{"test": "datum.series === 'Clipping'", "value": [2, 2]}, {"test": "datum.series === 'Windows5'", "value": [7, 3, 2, 3]}], "value": [1, 0]}}},
   {"transform": [{"filter": "datum.series === 'Clipping'"}],
    "mark": {"type": "point", "shape": "triangle-up", "filled": true, "fill": "white", "stroke": "black", "strokeWidth": 1, "size": 40, "opacity": 1}},
   {"transform": [{"filter": "datum.series === 'Windows5'"}],
    "mark": {"type": "point", "shape": "M-1,-1L1,1M-1,1L1,-1M-0.7,-1H0.7M-0.7,1H0.7", "filled": true, "fill": "white", "stroke": "black", "strokeWidth": 1, "size": 36, "opacity": 1}},
   {"transform": [{"filter": "datum.series === 'Characterization'"}],
    "mark": {"type": "point", "shape": "square", "filled": true, "fill": "white", "stroke": "black", "strokeWidth": 1, "size": 40, "opacity": 1}},
   {"transform": [{"filter": "datum.x < 0"}],
    "mark": {"type": "point", "filled": false, "color": "black", "strokeWidth": 1.3, "opacity": 1},
    "encoding": {"shape": {"field": "series", "type": "nominal",
      "scale": {"domain": ["Random", "Clipping", "Windows5", "Characterization"], "range": [
        "M-5.83,0H5.83",
        "M-5.83,0H-5.42M-4.78,0H-4.37M-3.73,0H-3.32M-2.68,0H-2.27M-1.63,0H-1.22M1.22,0H1.63M2.27,0H2.68M3.32,0H3.73M4.37,0H4.78M5.42,0H5.83M-0.78,0.62L0,-0.85L0.78,0.62ZM0,-0.4V0.5M-0.4,0.35H0.4",
        "M-5.83,0H-4.2M-3.5,0H-3.03M-2.45,0H-1.05M1.05,0H2.45M3.03,0H3.5M4.2,0H5.83M-0.7,-0.75H0.7L-0.7,0.75H0.7Z",
        "M-5.83,0H-0.88M0.88,0H5.83M-0.88,-0.88H0.88V0.88H-0.88Z"]},
      "legend": {"orient": "none", "legendX": 349.3, "legendY": 143.3, "title": null, "padding": 7, "rowPadding": 17, "labelFontSize": 16.1, "symbolSize": 64, "symbolOffset": 10.6, "labelOffset": 18.6}}}}
  ]
 },
 {
  "width": 522, "height": 279,
  "data": {"name": "p4"},
  "title": {"text": "Neural Network Lift Curves", "frame": "group", "anchor": "middle", "dx": 35.3, "offset": 22.3},
  "encoding": {
   "x": {"field": "x", "type": "quantitative", "scale": {"domain": [0, 100], "nice": false},
     "axis": {"values": [0, 20, 40, 60, 80, 100], "labelExpr": "datum.value + '%'", "title": "Top  x% of Sorted Out-of-Sample Data", "labelPadding": 13.3, "labelFontSize": 18, "titleX": 290, "titleY": 61.7, "titleAlign": "center", "titleBaseline": "middle"}},
   "y": {"field": "y", "type": "quantitative", "scale": {"domain": [0, 100], "nice": false},
     "axis": {"values": [0, 20, 40, 60, 80, 100], "labelExpr": "datum.value + '%'", "title": "Percentage of Actual Bookings", "labelPadding": 4.3, "labelFontSize": 17, "titleFontSize": 21, "titleX": -68.4, "titleY": 130.7, "titleAngle": -90, "titleAlign": "center", "titleBaseline": "middle"}}
  },
  "layer": [
   {"mark": {"type": "line", "color": "black", "strokeWidth": 1.3},
    "encoding": {"detail": {"field": "series", "type": "nominal"},
      "strokeDash": {"condition": [{"test": "datum.series === 'Clipping'", "value": [2, 2]}, {"test": "datum.series === 'Windows5'", "value": [7, 3, 2, 3]}], "value": [1, 0]}}},
   {"transform": [{"filter": "datum.series === 'Clipping'"}],
    "mark": {"type": "point", "shape": "triangle-up", "filled": true, "fill": "black", "stroke": "black", "strokeWidth": 1, "size": 45, "opacity": 1}},
   {"transform": [{"filter": "datum.series === 'Windows5'"}],
    "mark": {"type": "point", "shape": "M-1,-1L1,1M-1,1L1,-1M-0.7,-1H0.7M-0.7,1H0.7M0,-1.2V1.2", "filled": true, "fill": "white", "stroke": "black", "strokeWidth": 1, "size": 36, "opacity": 1}},
   {"transform": [{"filter": "datum.series === 'Characterization'"}],
    "mark": {"type": "point", "shape": "square", "filled": true, "fill": "white", "stroke": "black", "strokeWidth": 1, "size": 40, "opacity": 1}},
   {"transform": [{"filter": "datum.x < 0"}],
    "mark": {"type": "point", "filled": false, "color": "black", "strokeWidth": 1.3, "opacity": 1},
    "encoding": {"shape": {"field": "series", "type": "nominal",
      "scale": {"domain": ["Random", "Clipping", "Windows5", "Characterization"], "range": [
        "M-6.68,0H6.68",
        "M-6.68,0H-6.28M-5.48,0H-5.08M-4.28,0H-3.87M-3.07,0H-2.67M-1.87,0H-1.47M1.47,0H1.87M2.67,0H3.07M3.87,0H4.28M5.08,0H5.48M6.28,0H6.68M-0.8,0.62L0,-0.85L0.8,0.62ZM0,-0.4V0.5M-0.4,0.35H0.4",
        "M-6.68,0H-4.81M-4.01,0H-3.54M-2.81,0H-1.07M1.07,0H2.81M3.54,0H4.01M4.81,0H6.68M-0.65,-0.65L0.65,0.65M-0.65,0.65L0.65,-0.65M-0.45,-0.7H0.45M-0.45,0.7H0.45M0,-0.8V0.8",
        "M-6.68,0H-0.85M0.85,0H6.68M-0.85,-0.85H0.85V0.85H-0.85Z"]},
      "legend": {"orient": "none", "legendX": 311, "legendY": 133.7, "title": null, "padding": 9, "rowPadding": 13.5, "labelFontSize": 17.6, "symbolSize": 64, "symbolOffset": 26.9, "labelOffset": 22.6}}}}
  ]
 }
 ]
}
]
}
